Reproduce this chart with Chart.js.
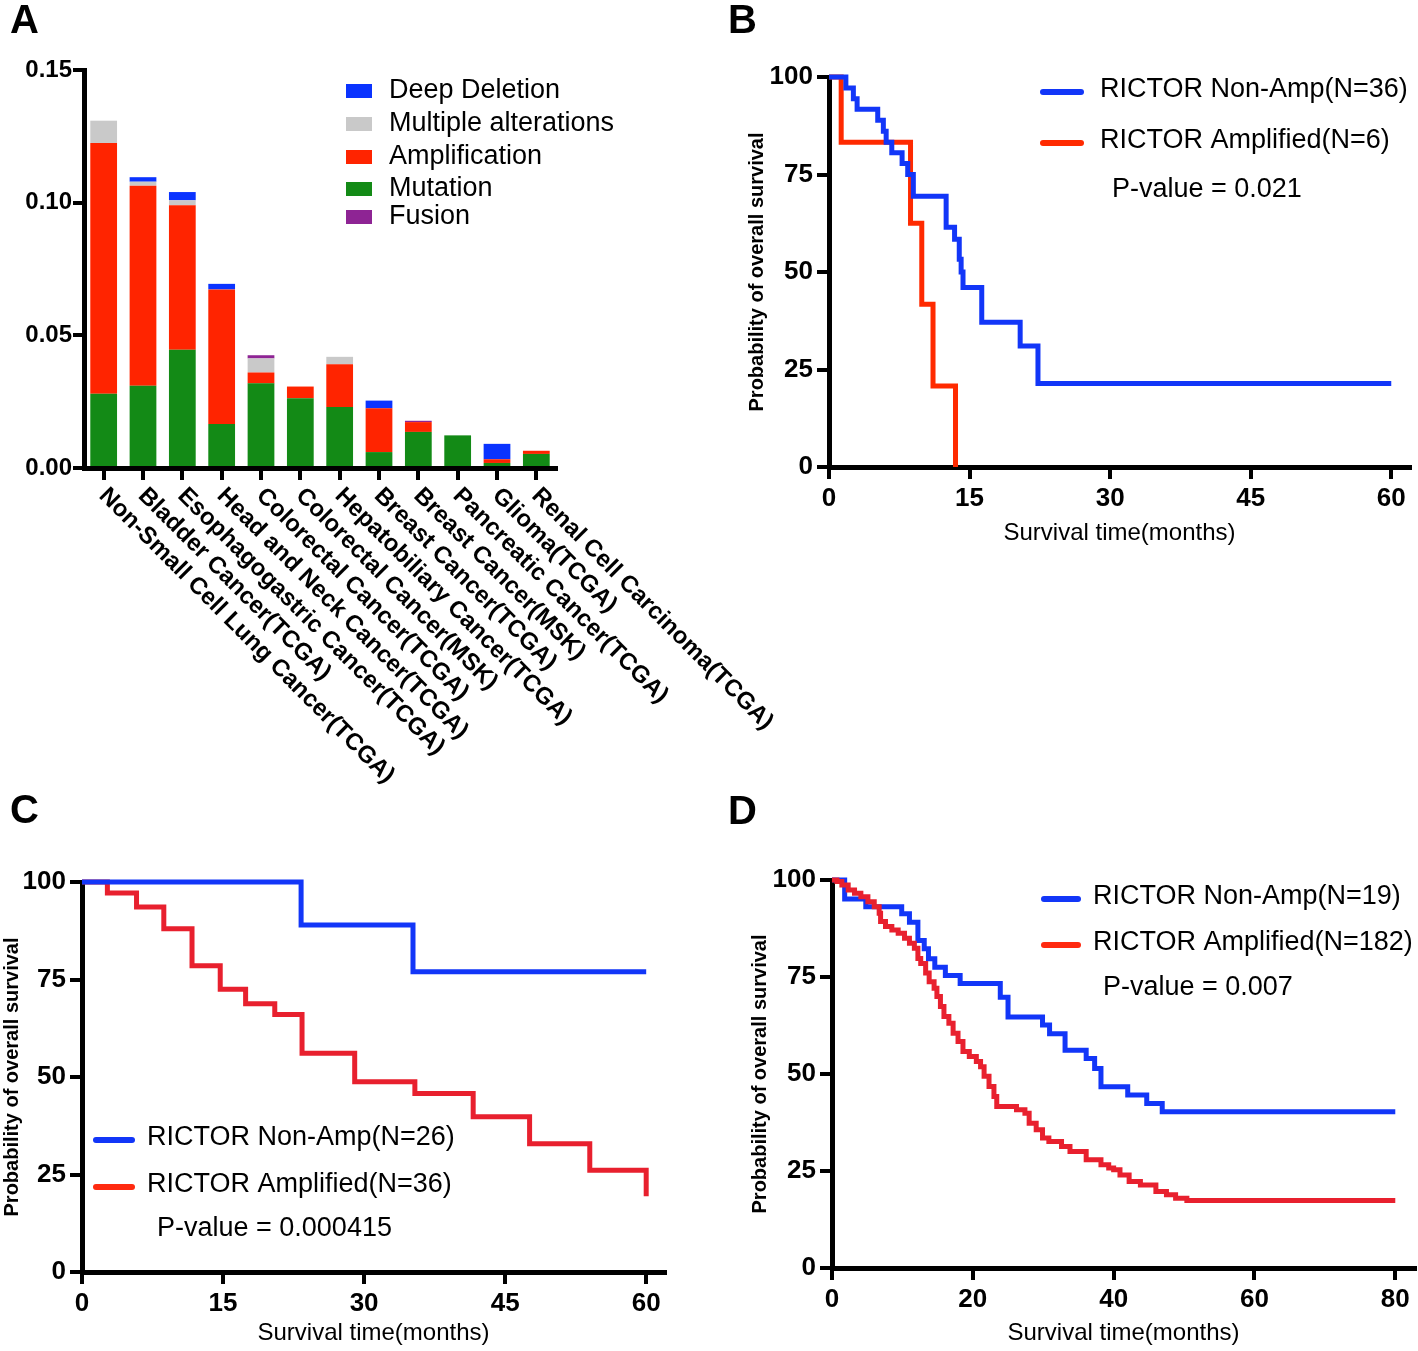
<!DOCTYPE html>
<html>
<head>
<meta charset="utf-8">
<script src="https://cdn.jsdelivr.net/npm/chart.js@4.4.0/dist/chart.umd.min.js"></script>
<style>
  html, body { margin: 0; padding: 0; background: #fff; }
  #fig { position: relative; width: 1418px; height: 1351px; overflow: hidden; font-family: "Liberation Sans", Arial, sans-serif; }
  #fig canvas { position: absolute; }
  .tag { position: absolute; font-size: 40px; font-weight: bold; line-height: 1; color: #000; }
</style>
</head>
<body>
<div id="fig">
  <canvas id="chartA" width="800" height="800" style="left:0;top:0"></canvas>
  <canvas id="chartB" width="718" height="560" style="left:700px;top:0"></canvas>
  <canvas id="chartC" width="700" height="551" style="left:0;top:800px"></canvas>
  <canvas id="chartD" width="718" height="551" style="left:700px;top:800px"></canvas>
  <div class="tag" style="left:10px;top:-1px">A</div>
  <div class="tag" style="left:728px;top:-1px">B</div>
  <div class="tag" style="left:10px;top:789px">C</div>
  <div class="tag" style="left:728px;top:790px">D</div>
</div>
<script>
// Panel A - alteration frequency by cancer study
const cancerTypes = [
    'Non-Small Cell Lung Cancer(TCGA)', 'Bladder Cancer(TCGA)', 'Esophagogastric Cancer(TCGA)',
    'Head and Neck Cancer(TCGA)', 'Colorectal Cancer(TCGA)', 'Colorectal Cancer(MSK)',
    'Hepatobiliary Cancer(TCGA)', 'Breast Cancer(TCGA)', 'Breast Cancer(MSK)',
    'Pancreatic Cancer(TCGA)', 'Glioma(TCGA)', 'Renal Cell Carcinoma(TCGA)'
];
const mutation      = [0.0280, 0.0310, 0.0446, 0.0166, 0.0319, 0.0263, 0.0230, 0.0060, 0.0136, 0.0123, 0.0019, 0.0053];
const amplification = [0.0945, 0.0754, 0.0544, 0.0507, 0.0041, 0.0044, 0.0161, 0.0165, 0.0037, 0, 0.0014, 0.0012];
const multipleAlt   = [0.0084, 0.0015, 0.0019, 0, 0.0053, 0, 0.0028, 0, 0, 0, 0, 0];
const deepDeletion  = [0, 0.0017, 0.0031, 0.0021, 0, 0, 0, 0.0029, 0, 0, 0.0058, 0];
const fusion        = [0, 0, 0, 0, 0.0012, 0, 0, 0, 0.0005, 0, 0, 0];
const freqTicks = [0, 0.05, 0.10, 0.15];

// Panel B
const bNonAmpMonths   = [0, 1.8, 2.6, 3.0, 5.2, 5.8, 6.1, 6.7, 7.8, 8.4, 9.0, 12.5, 13.4, 13.9, 14.1, 14.3, 16.3, 20.4, 22.3, 60];
const bNonAmpSurvival = [100, 97.2, 94.4, 91.7, 88.9, 86.1, 83.3, 80.6, 77.8, 75.0, 69.4, 61.5, 58.4, 53.3, 50.0, 46.0, 37.1, 31.0, 21.4, 21.4];
const bAmpMonths      = [0, 1.3, 8.7, 9.9, 11.1, 13.5];
const bAmpSurvival    = [100, 83.3, 62.5, 41.7, 20.8, 0];

// Panel C
const cNonAmpMonths   = [0, 23.3, 35.2, 60];
const cNonAmpSurvival = [100, 89.0, 77.0, 77.0];
const cAmpMonths      = [0, 2.7, 5.8, 8.7, 11.7, 14.7, 17.4, 20.5, 23.4, 29.0, 35.4, 41.6, 47.6, 54.0, 60];
const cAmpSurvival    = [100, 97.2, 93.6, 88.0, 78.5, 72.5, 68.8, 66.0, 56.1, 48.8, 45.8, 39.8, 32.9, 26.1, 19.4];

// Panel D
const dNonAmpMonths   = [0, 1.8, 4.8, 9.9, 11.0, 12.2, 13.1, 13.7, 14.6, 16.1, 18.2, 23.9, 25.0, 29.9, 30.9, 33.1, 36.1, 37.3, 38.2, 42.0, 44.7, 46.9, 80];
const dNonAmpSurvival = [100, 95.1, 93.1, 91.3, 89.1, 84.4, 82.3, 79.7, 77.5, 75.4, 73.3, 69.8, 64.7, 62.6, 60.4, 56.1, 54.0, 51.4, 46.7, 44.6, 42.4, 40.3, 40.3];
const dAmpMonths      = [0, 0.7, 1.4, 2.3, 3.2, 4.1, 5.1, 6.0, 6.7, 6.9, 7.6, 8.5, 9.4, 10.3, 11.0, 11.7, 12.2, 12.6, 13.3, 13.8,
                         14.5, 14.9, 15.4, 15.9, 16.6, 17.2, 17.9, 18.6, 19.5, 20.5, 21.1, 21.6, 22.3, 23.0, 23.4, 26.2, 27.4, 28.0,
                         29.0, 29.9, 30.8, 32.6, 33.8, 36.1, 38.2, 39.3, 40.0, 40.9, 42.2, 43.8, 46.0, 47.5, 48.8, 50.4, 80];
const dAmpSurvival    = [100, 99.6, 98.7, 97.4, 96.6, 95.7, 94.4, 93.1, 91.4, 89.3, 88.0, 87.1, 86.3, 85.0, 83.7, 82.4, 79.8, 78.5, 76.0, 73.8,
                         72.1, 70.0, 67.4, 64.8, 63.1, 60.5, 58.4, 55.8, 54.5, 53.2, 51.9, 49.4, 46.8, 44.2, 41.6, 40.8, 39.9, 37.3,
                         35.6, 33.5, 32.6, 31.3, 30.0, 27.9, 26.6, 25.8, 25.3, 24.0, 22.3, 21.4, 19.7, 18.9, 18.0, 17.4, 17.4];

const BLUE = '#1236f8';
const FONT = '"Liberation Sans", Arial, Helvetica, sans-serif';

Chart.defaults.font.family = FONT;
Chart.defaults.color = '#000';
Chart.defaults.animation = false;
Chart.defaults.events = [];
Chart.defaults.plugins.legend.display = false;
Chart.defaults.plugins.tooltip.enabled = false;

// Legend boxes/lines + extra note, drawn inside the plot like the original
const panelText = {
    id: 'panelText',
    afterDraw(chart, args, opts) {
        const ctx = chart.ctx;
        ctx.save();
        ctx.font = opts.font;
        ctx.textBaseline = 'middle';
        opts.items.forEach((idx, i) => {
            const ds = chart.data.datasets[idx];
            const y = opts.ys[i];
            if (opts.kind === 'box') {
                ctx.fillStyle = ds.backgroundColor;
                ctx.fillRect(opts.x, y - 7, 26, 14);
            } else {
                ctx.strokeStyle = (opts.colors && opts.colors[i]) || ds.borderColor;
                ctx.lineWidth = 6;
                ctx.lineCap = 'round';
                ctx.beginPath();
                ctx.moveTo(opts.x, y + 2);
                ctx.lineTo(opts.x + opts.lineLen, y + 2);
                ctx.stroke();
            }
            ctx.fillStyle = '#000';
            ctx.fillText(ds.label, opts.textX, y);
        });
        if (opts.note) {
            ctx.fillStyle = '#000';
            ctx.fillText(opts.note.text, opts.note.x, opts.note.y);
        }
        ctx.restore();
    }
};

// Category names under panel A, slanted downwards to the right
const slantedLabels = {
    id: 'slantedLabels',
    afterDraw(chart) {
        const xs = chart.scales.x;
        const ctx = chart.ctx;
        ctx.save();
        ctx.font = 'bold 24px ' + FONT;
        ctx.fillStyle = '#000';
        ctx.textAlign = 'left';
        ctx.textBaseline = 'middle';
        chart.data.labels.forEach((lab, i) => {
            ctx.save();
            ctx.translate(xs.getPixelForTick(i) - 1, xs.top + 24);
            ctx.rotate(Math.PI / 4);
            ctx.fillText(lab, 0, 0);
            ctx.restore();
        });
        ctx.restore();
    }
};

function axisLook(tickLen) {
    return {
        border: { display: true, width: 5, color: '#000' },
        grid: { display: true, drawOnChartArea: false, drawTicks: true, tickLength: tickLen, tickWidth: 4, lineWidth: 4, color: '#000', tickColor: '#000' }
    };
}

// Panel A
new Chart(document.getElementById('chartA'), {
    type: 'bar',
    data: {
        labels: cancerTypes,
        datasets: [
            { label: 'Mutation', data: mutation, backgroundColor: '#138a16' },
            { label: 'Amplification', data: amplification, backgroundColor: '#ff2400' },
            { label: 'Multiple alterations', data: multipleAlt, backgroundColor: '#c9c9c9' },
            { label: 'Deep Deletion', data: deepDeletion, backgroundColor: '#0a33ff' },
            { label: 'Fusion', data: fusion, backgroundColor: '#8e2494' }
        ]
    },
    options: {
        responsive: false,
        layout: { padding: { left: 0, top: 70, right: 244, bottom: 312 } },
        datasets: { bar: { categoryPercentage: 1, barPercentage: 0.68 } },
        scales: {
            x: {
                stacked: true,
                ...axisLook(12),
                grid: { ...axisLook(12).grid, offset: false },
                ticks: { display: false },
                afterFit: s => { s.height = 20; }
            },
            y: {
                stacked: true,
                min: 0,
                max: 0.15,
                ...axisLook(11),
                afterBuildTicks: s => { s.ticks = freqTicks.map(v => ({ value: v })); },
                ticks: { font: { size: 24, weight: 'bold' }, padding: 1, callback: v => v.toFixed(2) },
                afterFit: s => { s.width = 84; }
            }
        },
        plugins: {
            panelText: {
                kind: 'box', font: '27px ' + FONT, x: 346, textX: 389,
                items: [3, 2, 1, 0, 4], ys: [91, 124, 157, 189, 217]
            }
        }
    },
    plugins: [panelText, slantedLabels]
});

// Kaplan-Meier panels
function survivalChart(id, cfg) {
    return new Chart(document.getElementById(id), {
        type: 'line',
        data: {
            datasets: cfg.series.map(s => ({
                label: s.label,
                data: s.months.map((m, i) => ({ x: m, y: s.survival[i] })),
                borderColor: s.color,
                borderWidth: 5,
                pointRadius: 0,
                stepped: true,
                fill: false,
                clip: false
            }))
        },
        options: {
            responsive: false,
            layout: { padding: cfg.padding },
            scales: {
                x: {
                    type: 'linear',
                    min: 0,
                    max: cfg.xMax,
                    ...axisLook(12),
                    ticks: { stepSize: cfg.xStep, includeBounds: false, font: { size: 26, weight: 'bold' }, padding: 4 },
                    title: { display: true, text: 'Survival time(months)', font: { size: 24 }, padding: 0 },
                    afterFit: s => { s.height = cfg.xAxisH; }
                },
                y: {
                    min: 0,
                    max: 100,
                    ...axisLook(12),
                    ticks: { stepSize: 25, font: { size: 26, weight: 'bold' }, padding: 4 },
                    title: { display: true, text: 'Probability of overall survival', font: { size: 20, weight: 'bold' }, padding: 0 },
                    afterFit: s => { s.width = cfg.yAxisW; }
                }
            },
            plugins: { panelText: cfg.legend }
        },
        plugins: [panelText]
    });
}

survivalChart('chartB', {
    padding: { left: 45, top: 77, right: 8, bottom: 12 },
    yAxisW: 84, xAxisH: 81, xMax: 62, xStep: 15,
    series: [
        { label: 'RICTOR Non-Amp(N=36)', months: bNonAmpMonths, survival: bNonAmpSurvival, color: BLUE },
        { label: 'RICTOR Amplified(N=6)', months: bAmpMonths, survival: bAmpSurvival, color: '#ff2a00' }
    ],
    legend: {
        kind: 'line', font: '27px ' + FONT, x: 343, lineLen: 38, textX: 400,
        items: [0, 1], ys: [90, 141],
        note: { text: 'P-value = 0.021', x: 412, y: 190 }
    }
});

survivalChart('chartC', {
    padding: { left: 0, top: 82, right: 35, bottom: 3 },
    yAxisW: 82, xAxisH: 76, xMax: 62, xStep: 15,
    series: [
        { label: 'RICTOR Non-Amp(N=26)', months: cNonAmpMonths, survival: cNonAmpSurvival, color: BLUE },
        { label: 'RICTOR Amplified(N=36)', months: cAmpMonths, survival: cAmpSurvival, color: '#e8202e' }
    ],
    legend: {
        kind: 'line', font: '27px ' + FONT, x: 96, lineLen: 36, textX: 147,
        items: [0, 1], ys: [338, 385], colors: [BLUE, '#ff2a10'],
        note: { text: 'P-value = 0.000415', x: 157, y: 429 }
    }
});

survivalChart('chartD', {
    padding: { left: 48, top: 80, right: 3, bottom: 3 },
    yAxisW: 84, xAxisH: 80, xMax: 82.8, xStep: 20,
    series: [
        { label: 'RICTOR Amplified(N=182)', months: dAmpMonths, survival: dAmpSurvival, color: '#e8202e' },
        { label: 'RICTOR Non-Amp(N=19)', months: dNonAmpMonths, survival: dNonAmpSurvival, color: BLUE }
    ],
    legend: {
        kind: 'line', font: '27px ' + FONT, x: 344, lineLen: 34, textX: 393,
        items: [1, 0], ys: [97, 143], colors: [BLUE, '#ff2a10'],
        note: { text: 'P-value = 0.007', x: 403, y: 188 }
    }
});
</script>
</body>
</html>
